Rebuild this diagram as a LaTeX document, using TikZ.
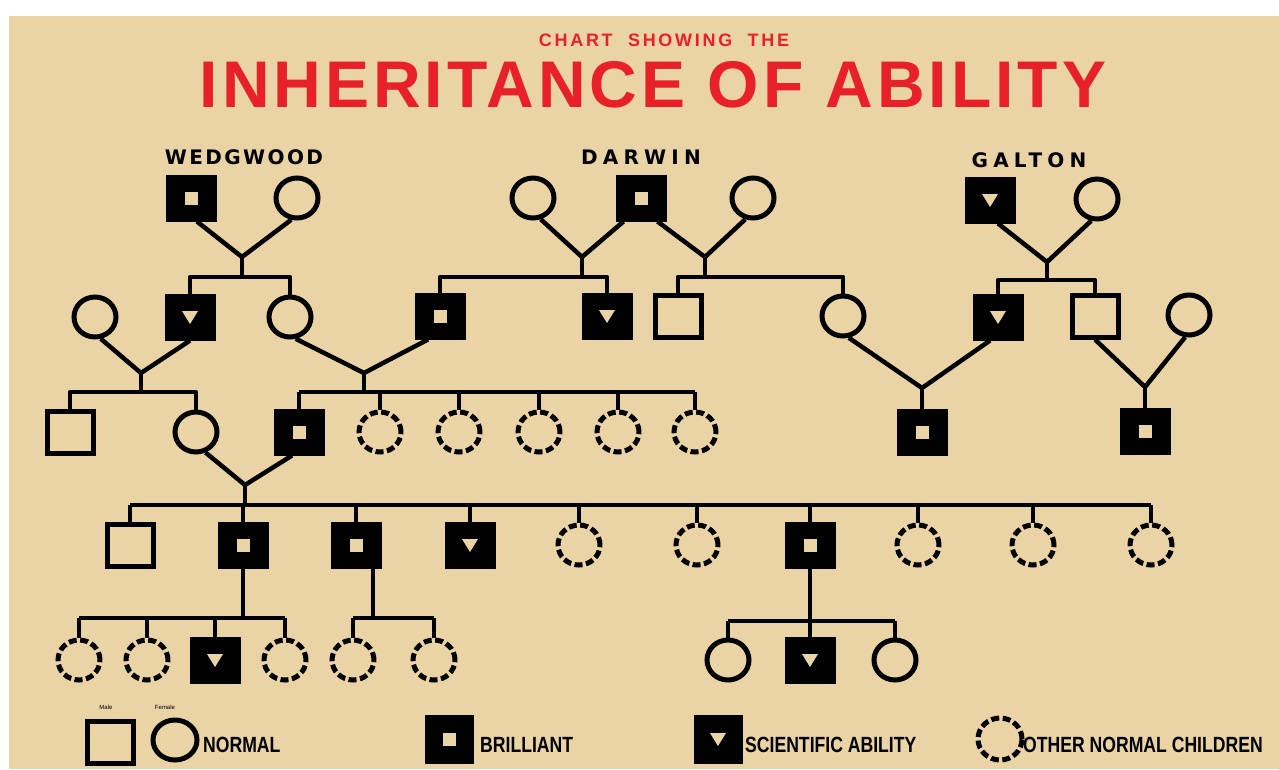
\documentclass[tikz,border=0pt]{standalone}
\usepackage{fontspec}
\usetikzlibrary{shapes.geometric,calc}
\setmainfont{Liberation Sans}
\newfontfamily\titlefont[LetterSpace=6]{Liberation Sans}
\newfontfamily\subfont[LetterSpace=15]{Liberation Sans}
\newfontfamily\namefont[LetterSpace=12]{DejaVu Sans}
\newfontfamily\widenamefont[LetterSpace=26]{DejaVu Sans}
\newfontfamily\legfont[FakeStretch=0.8]{Liberation Sans}
\definecolor{bgc}{RGB}{234,212,165}
\definecolor{titlered}{RGB}{232,32,42}
\pgfdeclarelayer{paper}
\pgfdeclarelayer{links}
\pgfsetlayers{paper,links,main}
\tikzset{
 sqbase/.style={rectangle, draw=black, line width=5pt, minimum width=46pt, minimum height=42pt, inner sep=0pt},
 sqn/.style={sqbase, fill=bgc},
 sqb/.style={sqbase, fill=black, path picture={\fill[bgc] ([shift={(-6.5pt,-6.5pt)}]path picture bounding box.center) rectangle ([shift={(6.5pt,6pt)}]path picture bounding box.center);}},
 sqs/.style={sqbase, fill=black, path picture={\fill[bgc] ([shift={(-8pt,6pt)}]path picture bounding box.center) -- ([shift={(8pt,6pt)}]path picture bounding box.center) -- ([shift={(0pt,-7pt)}]path picture bounding box.center) -- cycle;}},
 fem/.style={ellipse, draw=black, line width=5pt, fill=bgc, minimum width=42pt, minimum height=40pt, inner sep=0pt},
 oth/.style={fem, dash pattern=on 8pt off 3.5pt},
 link/.style={line width=4.5pt, line join=round},
 namelbl/.style={font=\namefont\bfseries\fontsize{20}{20}\selectfont, inner sep=0pt},
 widenamelbl/.style={font=\widenamefont\bfseries\fontsize{20}{20}\selectfont, inner sep=0pt},
 leglbl/.style={font=\legfont\bfseries\fontsize{22}{22}\selectfont, inner sep=0pt, anchor=west},
 tinylbl/.style={font=\fontsize{6}{6}\selectfont, inner sep=0pt},
}
\begin{document}
\begin{tikzpicture}[x=1pt,y=-1pt]
\useasboundingbox (0,0) rectangle (1279,769);
\begin{pgfonlayer}{paper}
\fill[white] (0,0) rectangle (1279,769);
\fill[bgc] (9,16) rectangle (1279,769);
\end{pgfonlayer}

% titles
\node[inner sep=0pt, text=titlered, font=\subfont\bfseries\fontsize{18}{18}\selectfont] (sub) at (664,40) {CHART \ SHOWING \ THE};
\node[inner sep=0pt, text=titlered, font=\titlefont\bfseries\fontsize{66}{66}\selectfont] (title) at (653,85) {INHERITANCE OF ABILITY};
\node[namelbl] (nw) at (244,157) {WEDGWOOD};
\node[widenamelbl] (nd) at (641,157) {DARWIN};
\node[widenamelbl] (ng) at (1029,160) {GALTON};

% row 0
\node[sqb] (w1) at (191,198) {};
\node[fem] (w2) at (297,198) {};
\node[fem] (d1) at (533,198) {};
\node[sqb] (d2) at (641,198) {};
\node[fem] (d3) at (753,198) {};
\node[sqs] (g1) at (990,200) {};
\node[fem] (g2) at (1097,199) {};

% row 1
\node[fem] (a1) at (95,317) {};
\node[sqs] (w3) at (190,317) {};
\node[fem] (w4) at (290,317) {};
\node[sqb] (d4) at (440,316) {};
\node[sqs] (d5) at (607,316) {};
\node[sqn] (d6) at (678,316) {};
\node[fem] (d7) at (843,316) {};
\node[sqs] (g3) at (998,317) {};
\node[sqn] (g4) at (1095,316) {};
\node[fem] (g5) at (1189,315) {};

% row 2
\node[sqn] (c1) at (70,432) {};
\node[fem] (c2) at (196,432) {};
\node[sqb] (c3) at (299,432) {};
\node[oth] (c4) at (380,432) {};
\node[oth] (c5) at (459,432) {};
\node[oth] (c6) at (539,432) {};
\node[oth] (c7) at (618,432) {};
\node[oth] (c8) at (695,432) {};
\node[sqb] (g6) at (922,432) {};
\node[sqb] (g7) at (1145,431) {};

% row 3
\node[sqn] (r1) at (130,545) {};
\node[sqb] (r2) at (243,545) {};
\node[sqb] (r3) at (356,545) {};
\node[sqs] (r4) at (470,545) {};
\node[oth] (r5) at (579,545) {};
\node[oth] (r6) at (697,545) {};
\node[sqb] (r7) at (810,545) {};
\node[oth] (r8) at (918,545) {};
\node[oth] (r9) at (1033,545) {};
\node[oth] (r10) at (1151,545) {};

% row 4
\node[oth] (s1) at (79,660) {};
\node[oth] (s2) at (147,660) {};
\node[sqs] (s3) at (215,660) {};
\node[oth] (s4) at (285,660) {};
\node[oth] (s5) at (353,660) {};
\node[oth] (s6) at (434,660) {};
\node[fem] (s7) at (728,660) {};
\node[sqs] (s8) at (810,660) {};
\node[fem] (s9) at (895,660) {};

% legend
\node[sqn] (l1) at (110,742) {};
\node[fem, minimum width=44pt, minimum height=40pt] (l2) at (175,740) {};
\node[tinylbl] (lm) at (106,707) {Male};
\node[tinylbl] (lf) at (165,707) {Female};
\node[leglbl] (t1) at (203,745) {NORMAL};
\node[sqb, minimum height=44pt, minimum width=44pt] (l3) at (449,739) {};
\node[leglbl] (t2) at (480,745) {BRILLIANT};
\node[sqs, minimum height=44pt, minimum width=44pt] (l4) at (718,739) {};
\node[leglbl] (t3) at (745,745) {SCIENTIFIC ABILITY};
\node[oth, minimum width=44pt, minimum height=42pt] (l5) at (1000,739) {};
\node[leglbl] (t4) at (1023,745) {OTHER NORMAL CHILDREN};

% junction coordinates
\coordinate (wv) at (242,257); \coordinate (wb) at (242,277);
\coordinate (dlv) at (582,257); \coordinate (dlb) at (582,277);
\coordinate (drv) at (705,257); \coordinate (drb) at (705,277);
\coordinate (gv) at (1047,262); \coordinate (gb) at (1047,280);
\coordinate (av) at (141,373); \coordinate (ab) at (141,392);
\coordinate (bv) at (364,373); \coordinate (bb) at (364,392);
\coordinate (cv) at (922,388);
\coordinate (ev) at (1145,387);
\coordinate (fv) at (245,485); \coordinate (fb) at (245,505);
\coordinate (hb) at (243,618);
\coordinate (ib) at (373,618);
\coordinate (jb) at (810,621);

\begin{pgfonlayer}{links}
% Wedgwood
\draw[link] ([xshift=6pt]w1.south) -- (wv) -- (w2.-105);
\draw[link] (wv) -- (wb);
\draw[link] (w3.north) -- (w3.north |- wb) -- (w4.north |- wb) -- (w4.north);
% Darwin
\draw[link] (d1.-70) -- (dlv) -- ([xshift=8pt]d2.south west);
\draw[link] (dlv) -- (dlb);
\draw[link] (d4.north) -- (d4.north |- dlb) -- (d5.north |- dlb) -- (d5.north);
\draw[link] ([xshift=-9pt]d2.south east) -- (drv) -- (d3.-110);
\draw[link] (drv) -- (drb);
\draw[link] (d6.north) -- (d6.north |- drb) -- (d7.north |- drb) -- (d7.north);
% Galton
\draw[link] ([xshift=8pt]g1.south) -- (gv) -- (g2.-105);
\draw[link] (gv) -- (gb);
\draw[link] (g3.north) -- (g3.north |- gb) -- (g4.north |- gb) -- (g4.north);
% row 1 -> row 2
\draw[link] (a1.-75) -- (av) -- (w3.south);
\draw[link] (av) -- (ab);
\draw[link] (c1.north) -- (c1.north |- ab) -- (c2.north |- ab) -- (c2.north);
\draw[link] (w4.-75) -- (bv) -- ([xshift=-12pt]d4.south);
\draw[link] (bv) -- (bb);
\draw[link] (c3.north |- bb) -- (c8.north |- bb);
\foreach \n in {c3,c4,c5,c6,c7,c8} \draw[link] (\n.north) -- (\n.north |- bb);
\draw[link] (d7.-75) -- (cv) -- ([xshift=-8pt]g3.south);
\draw[link] (cv) -- (g6.north);
\draw[link] (g4.south) -- (ev) -- (g5.-100);
\draw[link] (ev) -- (g7.north);
% row 2 -> row 3
\draw[link] (c2.-65) -- (fv) -- ([xshift=-7pt]c3.south);
\draw[link] (fv) -- (fb);
\draw[link] (r1.north |- fb) -- (r10.north |- fb);
\foreach \n in {r1,r2,r3,r4,r5,r6,r7,r8,r9,r10} \draw[link] (\n.north) -- (\n.north |- fb);
% row 3 -> row 4
\draw[link] (r2.south) -- (hb);
\draw[link] (s1.north |- hb) -- (s4.north |- hb);
\foreach \n in {s1,s2,s3,s4} \draw[link] (\n.north) -- (\n.north |- hb);
\draw[link] (r3.south -| ib) -- (ib);
\draw[link] (s5.north |- ib) -- (s6.north |- ib);
\foreach \n in {s5,s6} \draw[link] (\n.north) -- (\n.north |- ib);
\draw[link] (r7.south) -- (jb);
\draw[link] (s7.north |- jb) -- (s9.north |- jb);
\foreach \n in {s7,s8,s9} \draw[link] (\n.north) -- (\n.north |- jb);
\end{pgfonlayer}
\end{tikzpicture}
\end{document}
